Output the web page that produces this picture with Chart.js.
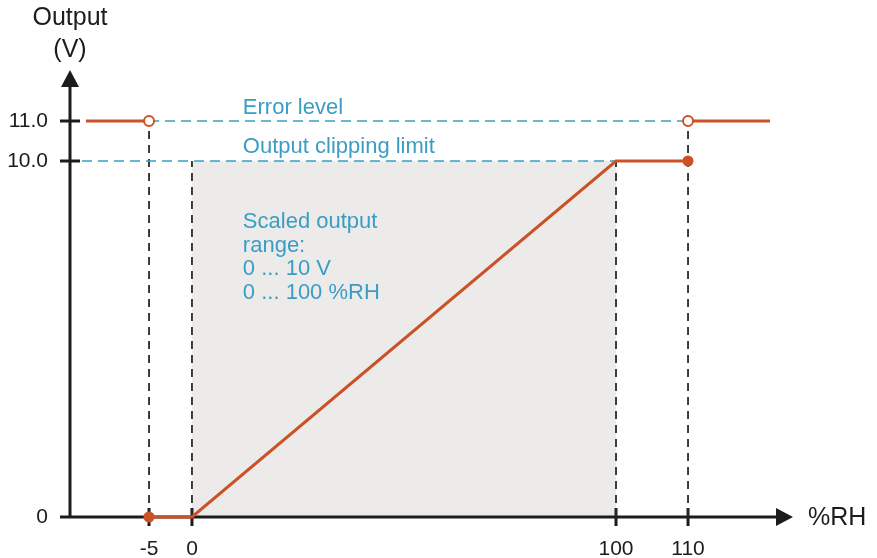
<!DOCTYPE html>
<html>
<head>
<meta charset="utf-8">
<script src="https://cdn.jsdelivr.net/npm/chart.js@4.4.0/dist/chart.umd.min.js"></script>
<style>
  body { margin: 0; background: #fff; }
</style>
</head>
<body>
<canvas id="graficoSaida" width="877" height="558"></canvas>
<script>
// valores
const rotulosRH = [-5, 0, 100, 110];          // rótulos do eixo x (%RH)
const rotulosSaida = [0, 10, 11];             // rótulos do eixo y (V)
const curvaRH = [-5, 0, 100, 110];            // curva de saída
const curvaSaida = [0, 0, 10, 10];
const nivelErro = 11;
const limiteCorte = 10;
const erroEsqRH = [-10, -5];                  // trechos no nível de erro
const erroDirRH = [110, 120];
const faixaRH = [0, 100];                     // faixa de saída escalada
const topoGuias = [11, 10, 10, 11];           // até onde sobem as linhas tracejadas verticais

const laranja = "#ca5226";
const azul = "#3a9dc4";
const escuro = "#1c1c1c";

// escala linear por trechos (o desenho original não é proporcional)
const BaseLinear = Chart.LinearScale || Chart.registry.getScale("linear");
class EscalaQuebrada extends BaseLinear {
  static id = "quebrada";
  fracao(v) {
    const nos = this.chart.config.options.scales[this.id].nos;
    const xs = nos.valor, fs = nos.fracao;
    let i = 0;
    while (i < xs.length - 2 && v > xs[i + 1]) i++;
    return fs[i] + (v - xs[i]) * (fs[i + 1] - fs[i]) / (xs[i + 1] - xs[i]);
  }
  getPixelForValue(v) {
    if (v === null || v === undefined) return NaN;
    return this.getPixelForDecimal(this.fracao(v));
  }
  getValueForPixel(p) {
    const nos = this.chart.config.options.scales[this.id].nos;
    const xs = nos.valor, fs = nos.fracao;
    const f = this.getDecimalForPixel(p);
    let i = 0;
    while (i < fs.length - 2 && f > fs[i + 1]) i++;
    return xs[i] + (f - fs[i]) * (xs[i + 1] - xs[i]) / (fs[i + 1] - fs[i]);
  }
}
Chart.register(EscalaQuebrada);

// monta pontos {x, y} a partir de dois arrays
function pontos(xs, ys) {
  return xs.map((x, i) => ({ x: x, y: Array.isArray(ys) ? ys[i] : ys }));
}

// linhas verticais tracejadas, separadas por um ponto nulo
const guias = [];
rotulosRH.forEach((x, i) => {
  guias.push({ x: x, y: 0 }, { x: x, y: topoGuias[i] }, { x: x, y: null });
});

const trechosErro = pontos(erroEsqRH, nivelErro)
  .concat([{ x: erroEsqRH[1], y: null }])
  .concat(pontos(erroDirRH, nivelErro));

// desenha eixos, setas, marcas e textos
const desenhoEixos = {
  id: "desenhoEixos",
  beforeDatasetsDraw(chart) {
    const { ctx, chartArea: a, scales: { x, y } } = chart;
    ctx.save();
    ctx.strokeStyle = escuro;
    ctx.fillStyle = escuro;
    ctx.lineWidth = 3;
    ctx.beginPath();
    ctx.moveTo(a.left, a.bottom);
    ctx.lineTo(a.left, a.top + 14);
    ctx.moveTo(a.left, a.bottom);
    ctx.lineTo(a.right - 14, a.bottom);
    rotulosSaida.forEach(v => {
      const py = y.getPixelForValue(v);
      ctx.moveTo(a.left - 10, py);
      ctx.lineTo(a.left + 10, py);
    });
    rotulosRH.forEach(v => {
      const px = x.getPixelForValue(v);
      ctx.moveTo(px, a.bottom - 9);
      ctx.lineTo(px, a.bottom + 9);
    });
    ctx.stroke();
    // setas
    ctx.beginPath();
    ctx.moveTo(a.left, a.top);
    ctx.lineTo(a.left - 9, a.top + 17);
    ctx.lineTo(a.left + 9, a.top + 17);
    ctx.closePath();
    ctx.moveTo(a.right, a.bottom);
    ctx.lineTo(a.right - 17, a.bottom - 9);
    ctx.lineTo(a.right - 17, a.bottom + 9);
    ctx.closePath();
    ctx.fill();
    ctx.restore();
  },
  afterDatasetsDraw(chart) {
    const { ctx, chartArea: a, scales: { x, y } } = chart;
    ctx.save();
    ctx.fillStyle = escuro;
    ctx.font = '25px "Liberation Sans", Arial, sans-serif';
    ctx.textBaseline = "alphabetic";
    ctx.textAlign = "center";
    ctx.fillText("Output", a.left, 25);
    ctx.fillText("(V)", a.left, 57);
    ctx.textAlign = "left";
    ctx.fillText("%RH", a.right + 15, a.bottom + 8);

    // textos azuis
    ctx.fillStyle = azul;
    ctx.font = '22px "Liberation Sans", Arial, sans-serif';
    const xt = x.getPixelForValue(12);
    ctx.fillText("Error level", xt, y.getPixelForValue(nivelErro) - 7);
    ctx.fillText("Output clipping limit", xt, y.getPixelForValue(limiteCorte) - 8);
    const bloco = ["Scaled output", "range:", "0 ... 10 V", "0 ... 100 %RH"];
    const y0 = y.getPixelForValue(limiteCorte) + 67;
    bloco.forEach((t, i) => ctx.fillText(t, xt, y0 + i * 23.5));
    ctx.restore();
  }
};

const graficoSaida = new Chart(document.getElementById("graficoSaida"), {
  type: "line",
  data: {
    datasets: [
      {
        // marcadores abertos (nível de erro)
        data: pontos([erroEsqRH[1], erroDirRH[0]], nivelErro),
        showLine: false,
        clip: false,
        pointRadius: 5,
        pointBorderWidth: 2,
        pointBackgroundColor: "#fff",
        pointBorderColor: laranja
      },
      {
        // marcadores cheios
        data: [{ x: curvaRH[0], y: curvaSaida[0] }, { x: curvaRH[3], y: curvaSaida[3] }],
        showLine: false,
        clip: false,
        pointRadius: 5.5,
        pointBorderWidth: 0,
        pointBackgroundColor: laranja,
        pointBorderColor: laranja
      },
      {
        data: pontos(curvaRH, curvaSaida),
        borderColor: laranja,
        borderWidth: 3,
        clip: false,
        pointRadius: 0
      },
      {
        data: trechosErro,
        borderColor: laranja,
        borderWidth: 3,
        pointRadius: 0
      },
      {
        // linha do nível de erro
        data: pontos([erroEsqRH[1], erroDirRH[0]], nivelErro),
        borderColor: azul,
        borderWidth: 1.5,
        borderDash: [10, 6],
        pointRadius: 0
      },
      {
        // linha do limite de corte
        data: pontos([-10.5, faixaRH[1]], limiteCorte),
        borderColor: azul,
        borderWidth: 1.5,
        borderDash: [10, 6],
        pointRadius: 0
      },
      {
        data: guias,
        borderColor: "#2a2a2a",
        borderWidth: 1.8,
        borderDash: [8, 6],
        pointRadius: 0,
        spanGaps: false
      },
      {
        // área cinza da faixa escalada
        data: pontos(faixaRH, limiteCorte),
        borderWidth: 0,
        borderColor: "rgba(0,0,0,0)",
        backgroundColor: "#edebea",
        fill: "origin",
        pointRadius: 0
      }
    ]
  },
  options: {
    responsive: false,
    animation: false,
    events: [],
    layout: { padding: { top: 70, right: 84, left: 0, bottom: 0 } },
    plugins: {
      legend: { display: false },
      tooltip: { enabled: false },
      filler: { drawTime: "beforeDatasetsDraw" }
    },
    scales: {
      x: {
        type: "quebrada",
        min: -12,
        max: 123,
        nos: {
          valor: [-12, -10, -5, 0, 100, 110, 120, 123],
          fracao: [0, 0.0221, 0.1093, 0.1687, 0.7552, 0.8548, 0.9682, 1]
        },
        afterBuildTicks: s => { s.ticks = rotulosRH.map(v => ({ value: v })); },
        afterFit: s => { s.height = 41; },
        border: { display: false },
        grid: { display: false, drawTicks: false },
        ticks: {
          autoSkip: false,
          maxRotation: 0,
          minRotation: 0,
          padding: 20,
          color: escuro,
          font: { family: '"Liberation Sans", Arial, sans-serif', size: 21 }
        }
      },
      y: {
        type: "quebrada",
        min: 0,
        max: 12.5,
        nos: {
          valor: [0, 10, 11, 12.5],
          fracao: [0, 0.7964, 0.8859, 1]
        },
        afterBuildTicks: s => { s.ticks = rotulosSaida.map(v => ({ value: v })); },
        afterFit: s => { s.width = 70; },
        border: { display: false },
        grid: { display: false, drawTicks: false },
        ticks: {
          padding: 22,
          color: escuro,
          font: { family: '"Liberation Sans", Arial, sans-serif', size: 21 },
          callback: v => v === 0 ? "0" : v.toFixed(1)
        }
      }
    }
  },
  plugins: [desenhoEixos]
});
</script>
</body>
</html>
